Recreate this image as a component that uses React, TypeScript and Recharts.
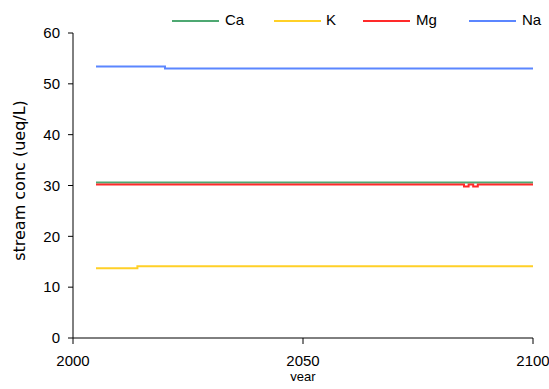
import React from "react";
import { LineChart, Line, XAxis, YAxis } from "recharts";

const years = [2005, 2014, 2020, 2085, 2086, 2087, 2088, 2100];
const ca = [30.6, 30.6, 30.6, 30.6, 30.6, 30.6, 30.6, 30.6];
const k = [13.7, 14.1, 14.1, 14.1, 14.1, 14.1, 14.1, 14.1];
const mg = [30.2, 30.2, 30.2, 29.8, 30.2, 29.8, 30.2, 30.2];
const na = [53.4, 53.4, 53.0, 53.0, 53.0, 53.0, 53.0, 53.0];

const seriesNames = ["Ca", "K", "Mg", "Na"];
const seriesColors = ["#4ea872", "#ffd027", "#ff2a2a", "#5b86ff"];
const xTicks = [2000, 2050, 2100];
const yTicks = [0, 10, 20, 30, 40, 50, 60];

const data = years.map((y, i) => ({ year: y, Ca: ca[i], K: k[i], Mg: mg[i], Na: na[i] }));

const FONT = "'Liberation Sans', Arial, sans-serif";
const WIDE = "'DejaVu Sans', Verdana, sans-serif";

const legendPos = [
  { line: 164, text: 217 },
  { line: 266, text: 318 },
  { line: 355, text: 408 },
  { line: 461, text: 514 },
];

const XTick = (p: any) => (
  <text
    x={p.x}
    y={p.y + 12}
    textAnchor="middle"
    fontSize={15}
    fontFamily={FONT}
    fill="#000"
  >
    {p.payload.value}
  </text>
);

export default function App() {
  return (
    <div style={{ position: "relative", width: 541, height: 373, fontFamily: FONT }}>
      <style>
        {
          "html,body{overflow:hidden} body{margin:8px 0 0 8px !important} #root{overflow:visible !important;width:541px} .recharts-surface{overflow:visible} .recharts-wrapper{overflow:visible}"
        }
      </style>
      <LineChart
        width={541}
        height={373}
        data={data}
        margin={{ top: 25, right: 16, bottom: 3, left: 0 }}
        style={{ overflow: "visible" }}
      >
        <XAxis
          dataKey="year"
          type="number"
          domain={[2000, 2100]}
          ticks={xTicks}
          stroke="#000"
          tickSize={6}
          tickMargin={10}
          height={40}
          tick={<XTick />}
          label={{
            content: (p: any) => (
              <text
                x={p.viewBox.x + p.viewBox.width / 2}
                y={p.viewBox.y + 43}
                textAnchor="middle"
                fontSize={13}
                fontFamily={FONT}
                fill="#000"
              >
                year
              </text>
            ),
          }}
        />
        <YAxis
          type="number"
          domain={[0, 60]}
          ticks={yTicks}
          stroke="#000"
          width={65}
          tickSize={5}
          tickMargin={8}
          tick={{ fill: "#000", fontSize: 15, fontFamily: FONT }}
          label={{
            content: (p: any) => {
              const cx = 11;
              const cy = p.viewBox.y + p.viewBox.height / 2 - 5;
              return (
                <text
                  x={cx}
                  y={cy}
                  transform={`rotate(-90 ${cx} ${cy})`}
                  textAnchor="middle"
                  dominantBaseline="central"
                  fontSize={16}
                  fontFamily={WIDE}
                  fill="#000"
                >
                  stream conc (ueq/L)
                </text>
              );
            },
          }}
        />
        {seriesNames.map((n, i) => (
          <Line
            key={n}
            dataKey={n}
            type="stepAfter"
            stroke={seriesColors[i]}
            strokeWidth={2}
            dot={false}
            isAnimationActive={false}
          />
        ))}
      </LineChart>
      {seriesNames.map((n, i) => (
        <div key={n}>
          <div
            style={{
              position: "absolute",
              left: legendPos[i].line,
              top: 12,
              width: 47,
              height: 2,
              background: seriesColors[i],
            }}
          />
          <div
            style={{
              position: "absolute",
              left: legendPos[i].text,
              top: 3,
              fontSize: 15,
              lineHeight: "18px",
              color: "#000",
            }}
          >
            {n}
          </div>
        </div>
      ))}
    </div>
  );
}
